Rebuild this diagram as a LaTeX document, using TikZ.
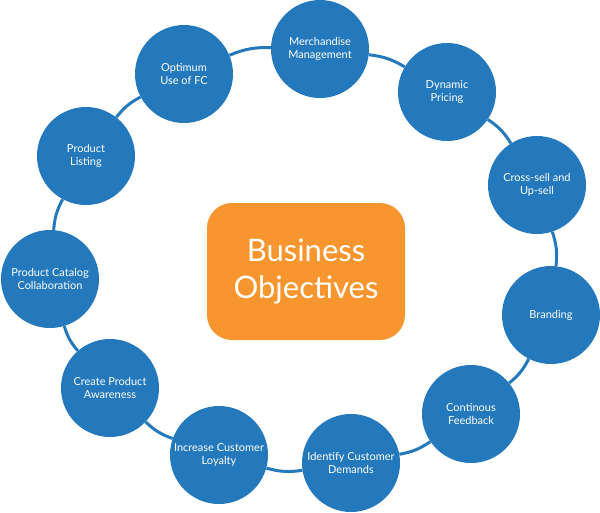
\documentclass[tikz,border=0pt]{standalone}
\usepackage{fontspec}
\setmainfont{Lato}
\definecolor{cblue}{HTML}{2479BC}
\definecolor{corange}{HTML}{F7962F}
\begin{document}
\begin{tikzpicture}[x=1pt,y=-1pt,
  obj/.style={circle,fill=cblue,minimum size=98pt,inner sep=0pt,text=white,align=center,
    font=\fontsize{11}{13}\selectfont},
  link/.style={draw=cblue,line width=3pt},
  core/.style={rounded corners=25pt,fill=corange,minimum width=198pt,minimum height=137pt,
    text=white,align=center,font=\fontsize{31}{37}\selectfont}]
\useasboundingbox (0,0) rectangle (600,512);
\node[core] (core) at (306,271.5) {Business\\Objectives};
\node[obj] (merch) at (320,49) {Merchandise\\Management};
\node[obj] (dyn) at (447,92) {Dynamic\\Pricing};
\node[obj] (cross) at (537,185) {Cross-sell and\\Up-sell};
\node[obj] (brand) at (551,315) {Branding};
\node[obj] (feed) at (471,414) {Continous\\Feedback};
\node[obj] (ident) at (351,463) {Identify Customer\\Demands};
\node[obj] (loyal) at (219,455) {Increase Customer\\Loyalty};
\node[obj] (aware) at (110,388) {Create Product\\Awareness};
\node[obj] (catalog) at (50,279) {Product Catalog\\Collaboration};
\node[obj] (listing) at (86,156) {Product\\Listing};
\node[obj] (optimum) at (184,74) {Optimum\\Use of FC};
\foreach \a/\b in {merch/dyn,dyn/cross,cross/brand,brand/feed,feed/ident,ident/loyal,loyal/aware,aware/catalog,catalog/listing,listing/optimum,optimum/merch}
  \draw[link] (\a) to[bend left=12] (\b);
\end{tikzpicture}
\end{document}
